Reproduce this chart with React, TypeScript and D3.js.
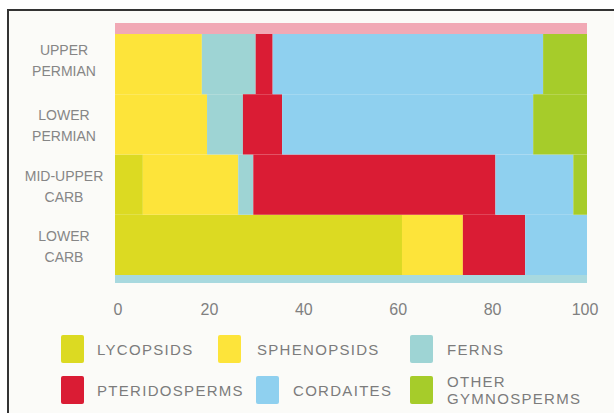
import React, { useRef, useEffect } from "react";
import * as d3 from "d3";

const periods = ["UPPER PERMIAN", "LOWER PERMIAN", "MID-UPPER CARB", "LOWER CARB"];
const periodLines = [["UPPER", "PERMIAN"], ["LOWER", "PERMIAN"], ["MID-UPPER", "CARB"], ["LOWER", "CARB"]];
const groups = ["LYCOPSIDS", "SPHENOPSIDS", "FERNS", "PTERIDOSPERMS", "CORDAITES", "OTHER GYMNOSPERMS"];

// percent of flora per period, same order as periods
const lycopsids = [0, 0, 5.9, 60.8];
const sphenopsids = [18.4, 19.5, 20.2, 12.9];
const ferns = [11.4, 7.6, 3.2, 0];
const pteridosperms = [3.6, 8.3, 51.3, 13.2];
const cordaites = [57.3, 53.2, 16.5, 13.1];
const otherGymnosperms = [9.3, 11.4, 2.9, 0];

const xTicks = [0, 20, 40, 60, 80, 100];
const colors = ["#dcda22", "#fde43a", "#9ed4d4", "#da1c34", "#8fd0ef", "#a6cc2a"];

export default function App() {
  const ref = useRef<SVGSVGElement>(null);

  useEffect(() => {
    const width = 614;
    const height = 413;
    const svg = d3.select(ref.current);
    svg.selectAll("*").remove();
    svg.attr("width", width).attr("height", height);

    // frame
    svg.append("rect").attr("width", width).attr("height", height).attr("fill", "#fff");
    svg.append("rect")
      .attr("x", 8).attr("y", 10).attr("width", width).attr("height", height)
      .attr("fill", "#fbfbf8").attr("stroke", "#333").attr("stroke-width", 2);

    const x = d3.scaleLinear().domain([0, 100]).range([115, 587]);
    const y = d3.scaleBand().domain(periods).range([34, 275]).padding(0);

    const series = [lycopsids, sphenopsids, ferns, pteridosperms, cordaites, otherGymnosperms];
    const table = periods.map((p, i) => {
      const row: any = { period: p };
      groups.forEach((g, j) => (row[g] = series[j][i]));
      return row;
    });
    const stacked = d3.stack().keys(groups)(table);

    // thin strips above and below the bars
    svg.append("rect")
      .attr("x", x(0)).attr("y", 23).attr("width", x(100) - x(0)).attr("height", 11)
      .attr("fill", "#f1a9b5");
    svg.append("rect")
      .attr("x", x(0)).attr("y", 275).attr("width", x(100) - x(0)).attr("height", 8)
      .attr("fill", "#a8d9df");

    svg.append("g")
      .selectAll("g")
      .data(stacked)
      .join("g")
      .attr("fill", (_d, i) => colors[i])
      .selectAll("rect")
      .data(d => d)
      .join("rect")
      .attr("x", d => x(d[0]))
      .attr("y", d => y((d.data as any).period)!)
      .attr("width", d => Math.max(0, x(d[1]) - x(d[0])))
      .attr("height", y.bandwidth());

    // row labels
    const labels = svg.append("g")
      .attr("font-family", "Arial, 'Liberation Sans', sans-serif")
      .attr("font-size", 14)
      .attr("fill", "#868686")
      .attr("text-anchor", "middle");
    periods.forEach((p, i) => {
      const cy = y(p)! + y.bandwidth() / 2 + (i === 0 ? -4 : 1);
      labels.append("text").attr("x", 64).attr("y", cy - 5).text(periodLines[i][0]);
      labels.append("text").attr("x", 64).attr("y", cy + 16).text(periodLines[i][1]);
    });

    // x axis labels
    svg.append("g")
      .attr("font-family", "Arial, 'Liberation Sans', sans-serif")
      .attr("font-size", 16)
      .attr("fill", "#808080")
      .attr("text-anchor", "middle")
      .selectAll("text")
      .data(xTicks)
      .join("text")
      .attr("x", d => x(d) + (d === 0 ? 3 : d === 100 ? -2 : 0))
      .attr("y", 315)
      .text(d => d);

    // legend
    const legendPos = [
      { sx: 61, tx: 97, cy: 349 },
      { sx: 218, tx: 257, cy: 349 },
      { sx: 410, tx: 447, cy: 349 },
      { sx: 61, tx: 97, cy: 390 },
      { sx: 256, tx: 293, cy: 390 },
      { sx: 410, tx: 447, cy: 390 },
    ];
    const legend = svg.append("g")
      .attr("font-family", "Arial, 'Liberation Sans', sans-serif")
      .attr("font-size", 15)
      .attr("letter-spacing", 1.3)
      .attr("fill", "#7c7c7c");
    groups.forEach((g, i) => {
      const p = legendPos[i];
      legend.append("rect")
        .attr("x", p.sx).attr("y", p.cy - 14).attr("width", 23).attr("height", 28)
        .attr("rx", 2).attr("fill", colors[i]);
      if (g === "OTHER GYMNOSPERMS") {
        legend.append("text").attr("x", p.tx).attr("y", p.cy - 3).text("OTHER");
        legend.append("text").attr("x", p.tx).attr("y", p.cy + 14).text("GYMNOSPERMS");
      } else {
        legend.append("text").attr("x", p.tx).attr("y", p.cy + 5.5).text(g);
      }
    });
  }, []);

  return (
    <div style={{ position: "absolute", left: 0, top: 0 }}>
      <svg ref={ref} style={{ display: "block" }}></svg>
    </div>
  );
}
